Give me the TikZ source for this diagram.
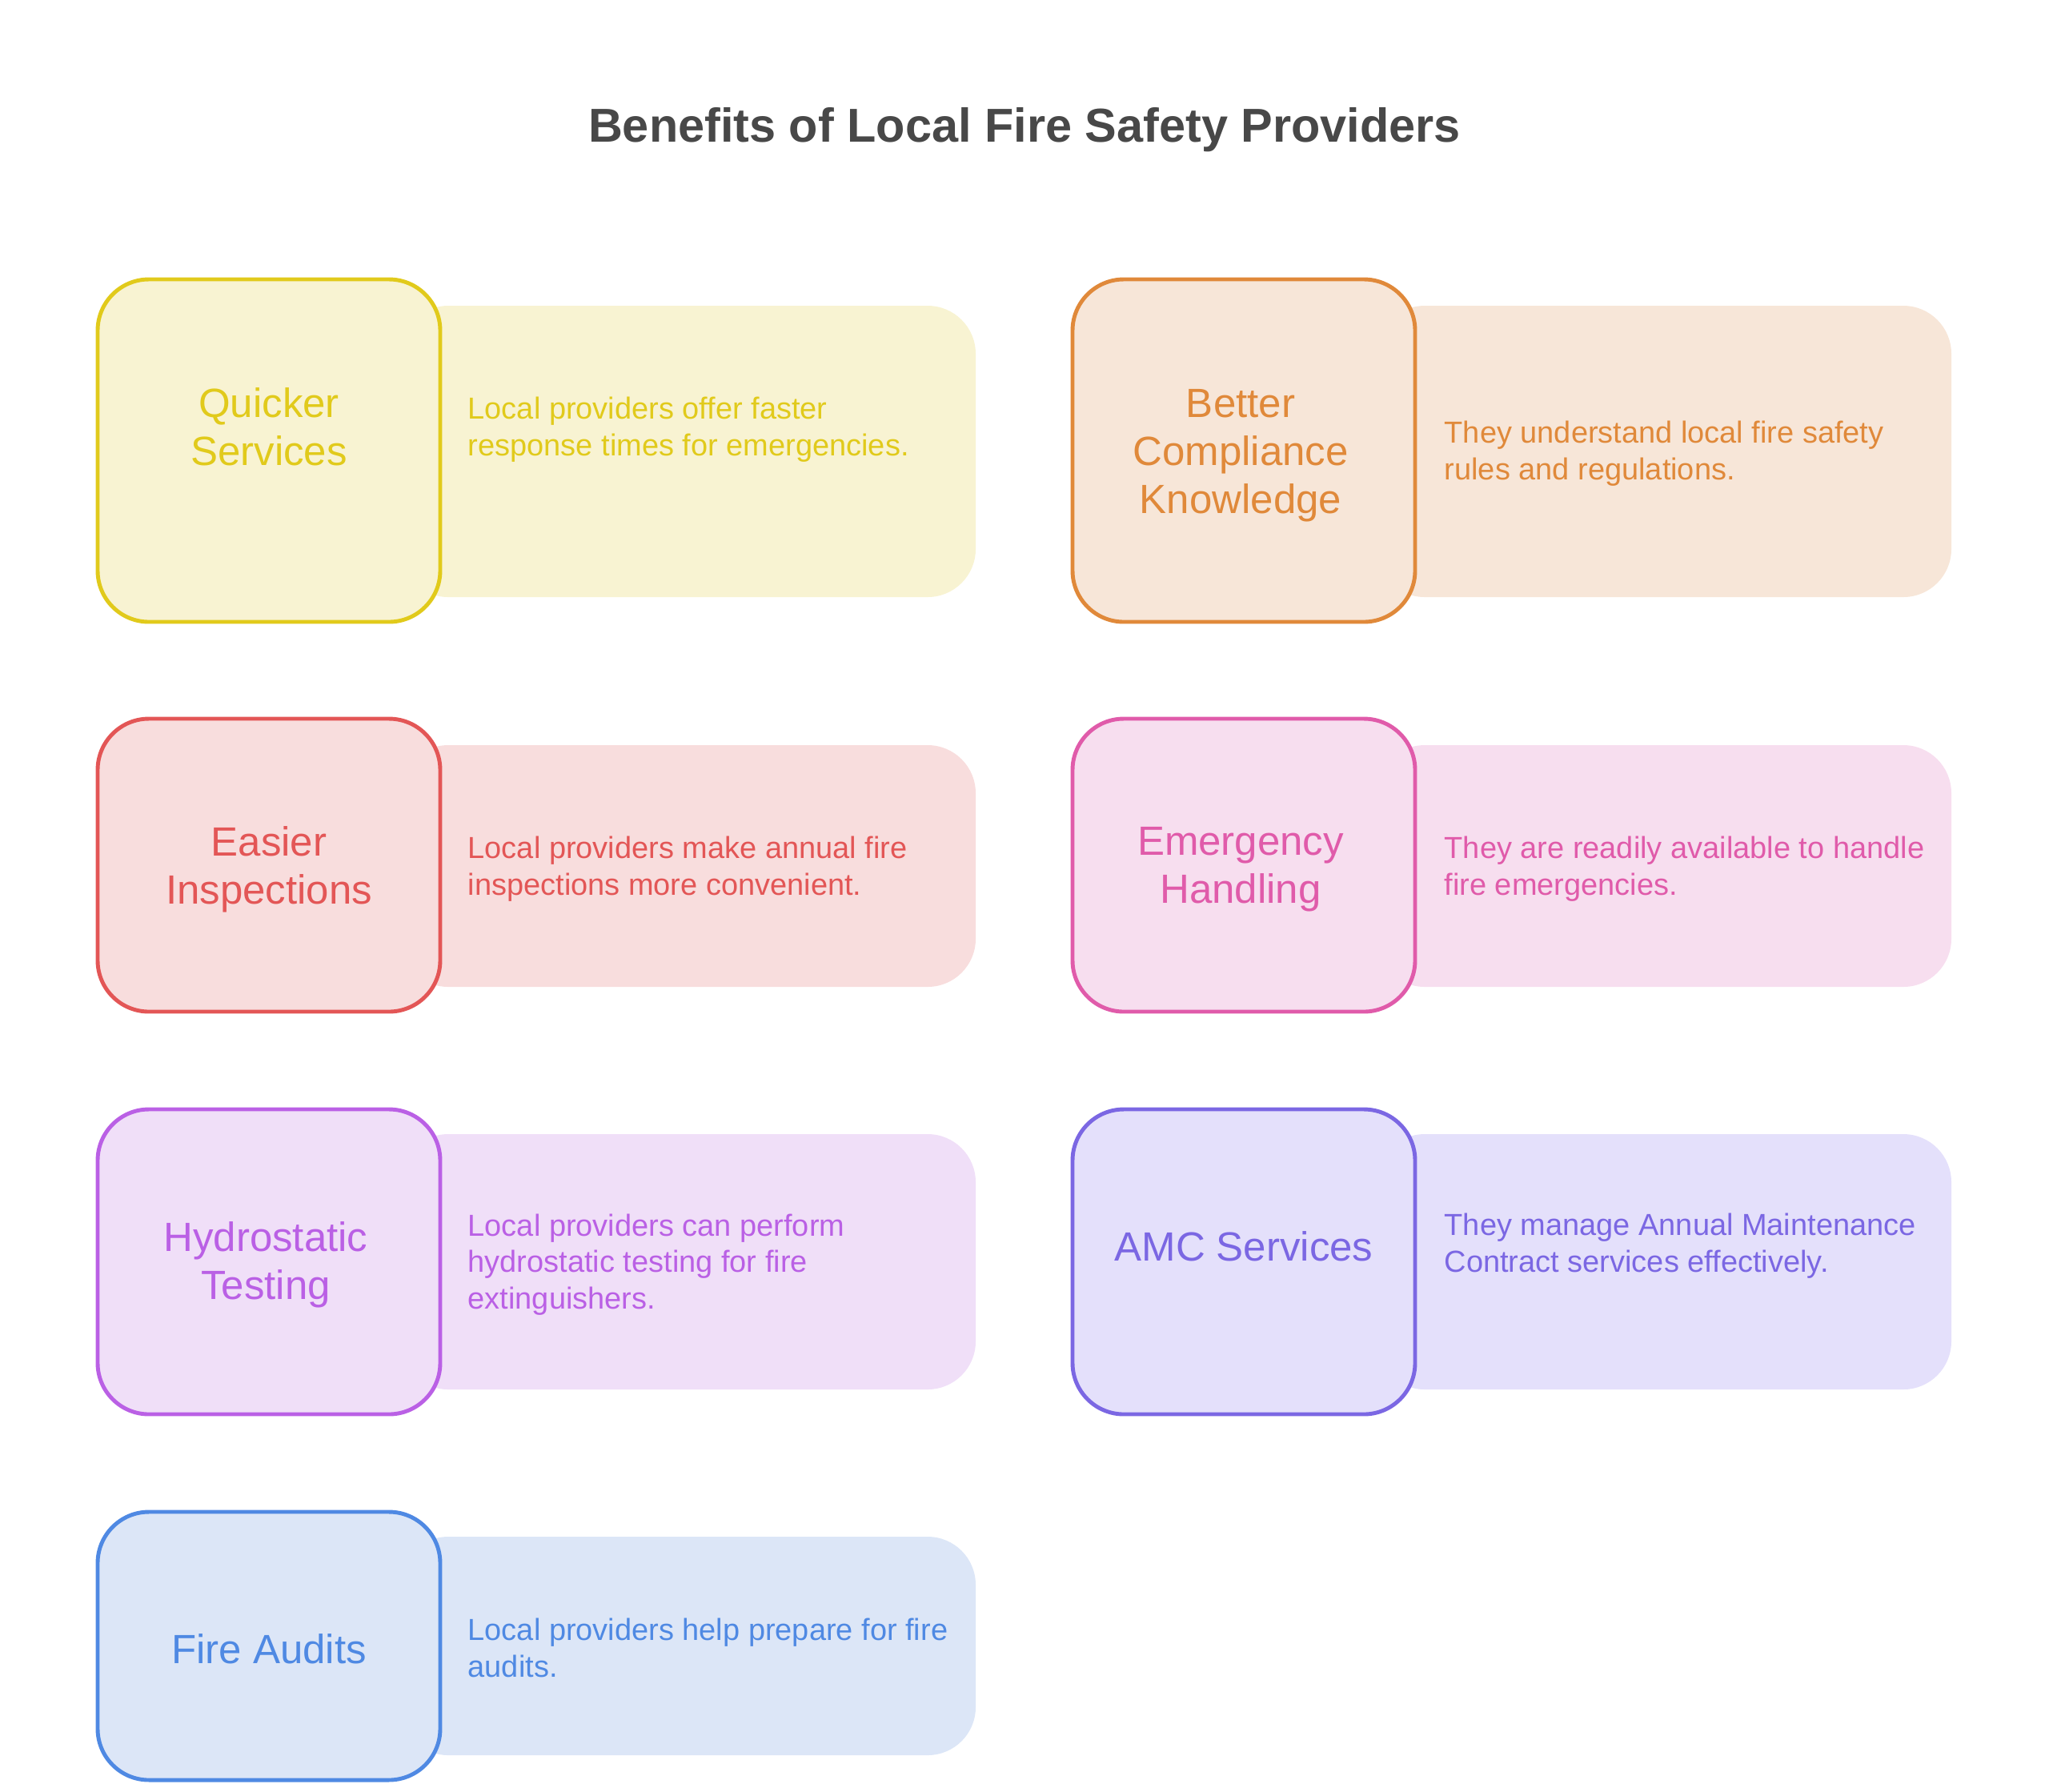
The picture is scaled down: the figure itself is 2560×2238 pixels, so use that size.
\documentclass[tikz,border=0pt]{standalone}
\usepackage{fontspec}
\setmainfont{Liberation Sans}

\definecolor{titlegray}{HTML}{484848}
\definecolor{yelLine}{HTML}{E1CA1B}
\definecolor{yelFill}{HTML}{F8F3D2}
\definecolor{oraLine}{HTML}{E0893A}
\definecolor{oraFill}{HTML}{F7E6D8}
\definecolor{redLine}{HTML}{E35656}
\definecolor{redFill}{HTML}{F8DDDD}
\definecolor{pinkLine}{HTML}{E05BAA}
\definecolor{pinkFill}{HTML}{F7DEEF}
\definecolor{purLine}{HTML}{BA60E5}
\definecolor{purFill}{HTML}{F0DFF8}
\definecolor{indLine}{HTML}{7B67E3}
\definecolor{indFill}{HTML}{E4E0FB}
\definecolor{bluLine}{HTML}{4F89E3}
\definecolor{bluFill}{HTML}{DCE6F7}

\tikzset{
  card/.style={line width=1.4pt, rounded corners=0.64cm},
  strip/.style={rounded corners=0.6cm},
  head/.style={inner sep=0pt, align=center,
    font=\fontsize{14.5}{17.1}\selectfont},
  note/.style={inner sep=0pt, align=left, anchor=west,
    font=\fontsize{10.8}{13}\selectfont}
}

\begin{document}
\begin{tikzpicture}[
  x=0.01cm, y=-0.01cm,
  line cap=round,
  line join=round
]
  \useasboundingbox (0,0) rectangle (2560,2238);

  % Title
  \node[text=titlegray, font=\bfseries\fontsize{16.9}{20}\selectfont]
    (title) at (1280,162) {Benefits of Local Fire Safety Providers};

  % Row 1 -- left
  \fill[strip, yelFill] (500,382) rectangle (1219,746);
  \draw[card, yelLine, fill=yelFill] (122,349) rectangle (550,777);
  \node[head, text=yelLine] (quick) at (336,533) {Quicker\\Services};
  \node[note, text=yelLine] (quickTxt) at (584,537)
    {Local providers offer faster\\response times for emergencies.};

  % Row 1 -- right
  \fill[strip, oraFill] (1720,382) rectangle (2438,746);
  \draw[card, oraLine, fill=oraFill] (1340,349) rectangle (1768,777);
  \node[head, text=oraLine] (comply) at (1550,569) {Better\\Compliance\\Knowledge};
  \node[note, text=oraLine] (complyTxt) at (1804,567)
    {They understand local fire safety\\rules and regulations.};

  % Row 2 -- left
  \fill[strip, redFill] (500,931) rectangle (1219,1233);
  \draw[card, redLine, fill=redFill] (122,898) rectangle (550,1264);
  \node[head, text=redLine] (inspect) at (336,1086) {Easier\\Inspections};
  \node[note, text=redLine] (inspectTxt) at (584,1086)
    {Local providers make annual fire\\inspections more convenient.};

  % Row 2 -- right
  \fill[strip, pinkFill] (1720,931) rectangle (2438,1233);
  \draw[card, pinkLine, fill=pinkFill] (1340,898) rectangle (1768,1264);
  \node[head, text=pinkLine] (emerg) at (1550,1086) {Emergency\\Handling};
  \node[note, text=pinkLine] (emergTxt) at (1804,1086)
    {They are readily available to handle\\fire emergencies.};

  % Row 3 -- left
  \fill[strip, purFill] (500,1417) rectangle (1219,1736);
  \draw[card, purLine, fill=purFill] (122,1386) rectangle (550,1767);
  \node[head, text=purLine] (hydro) at (332,1580) {Hydrostatic\\Testing};
  \node[note, text=purLine] (hydroTxt) at (584,1580)
    {Local providers can perform\\hydrostatic testing for fire\\extinguishers.};

  % Row 3 -- right
  \fill[strip, indFill] (1720,1417) rectangle (2438,1736);
  \draw[card, indLine, fill=indFill] (1340,1386) rectangle (1768,1767);
  \node[head, text=indLine] (amc) at (1554,1557) {AMC Services};
  \node[note, text=indLine] (amcTxt) at (1804,1557)
    {They manage Annual Maintenance\\Contract services effectively.};

  % Row 4 -- left
  \fill[strip, bluFill] (500,1920) rectangle (1219,2193);
  \draw[card, bluLine, fill=bluFill] (122,1889) rectangle (550,2224);
  \node[head, text=bluLine] (audit) at (336,2060) {Fire Audits};
  \node[note, text=bluLine] (auditTxt) at (584,2059)
    {Local providers help prepare for fire\\audits.};
\end{tikzpicture}
\end{document}
